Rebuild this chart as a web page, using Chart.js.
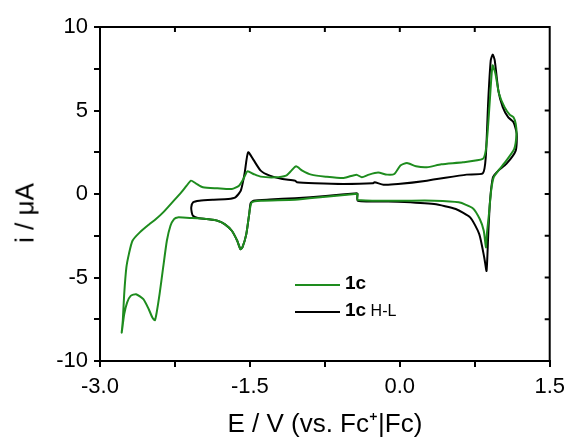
<!DOCTYPE html>
<html>
<head>
<meta charset="utf-8">
<script src="https://cdn.jsdelivr.net/npm/chart.js@4"></script>
<style>
body { margin: 0; background: #fff; }
#wrap { position: relative; width: 572px; height: 438px; font-family: "Liberation Sans", Arial, sans-serif; }
.row { position: absolute; left: 295px; height: 22px; line-height: 22px; white-space: nowrap; color: #000; }
.sw { display: inline-block; width: 45px; height: 2px; vertical-align: middle; margin-right: 5px; }
.row b { font-size: 19px; }
.row span.sub { font-size: 16px; }
#ytitle { position: absolute; left: 25px; top: 213px; font-size: 26px; white-space: nowrap;
  transform: translate(-50%, -50%) rotate(-90deg); }
</style>
</head>
<body>
<div id="wrap">
  <canvas id="cv" width="572" height="438"></canvas>
  <div class="row" style="top:272px"><span class="sw" style="background:#1e8c1e"></span><b>1c</b></div>
  <div class="row" style="top:299px"><span class="sw" style="background:#000"></span><b>1c</b> <span class="sub">H-L</span></div>
  <div id="ytitle">i / μA</div>
</div>
<script>
// 1c  (scan starts at -0.42 V, goes negative, back to +1.17 V, returns)
const greenE = [-0.423, -0.741, -1.048, -1.392, -1.482, -1.507, -1.536, -1.575, -1.595, -1.627, -1.681, -1.753, -1.825,
  -1.934, -2.078, -2.223, -2.259, -2.295, -2.331, -2.368, -2.404, -2.433, -2.451, -2.476, -2.512, -2.566, -2.639,
  -2.693, -2.729, -2.758, -2.776, -2.783, -2.772, -2.758, -2.736, -2.711, -2.675, -2.602, -2.512, -2.440, -2.368,
  -2.277, -2.187, -2.133, -2.089, -2.042, -1.970, -1.825, -1.681, -1.609, -1.565, -1.525, -1.464, -1.392, -1.247,
  -1.139, -1.085, -1.038, -0.976, -0.886, -0.741, -0.561, -0.434, -0.380, -0.308, -0.217, -0.127, -0.055, 0.006,
  0.072, 0.162, 0.271, 0.415, 0.632, 0.830, 0.860, 0.880, 0.903, 0.928, 0.957, 0.993, 1.048, 1.102, 1.138, 1.160,
  1.168, 1.145, 1.066, 0.986, 0.939, 0.914, 0.892, 0.871, 0.862, 0.840, 0.800, 0.730, 0.590, 0.343, -0.018, -0.420,
  -0.423];
const greenI = [0.02, -0.16, -0.34, -0.40, -0.50, -1.2, -2.4, -3.2, -3.3, -2.8, -2.2, -1.8, -1.6,
  -1.5, -1.44, -1.40, -1.5, -1.9, -2.8, -4.4, -6.0, -7.1, -7.56, -7.4, -6.9, -6.3, -6.0,
  -6.1, -6.5, -7.2, -8.0, -8.3, -7.6, -6.0, -4.4, -3.6, -2.8, -2.3, -1.84, -1.5, -1.1,
  -0.5, 0.1, 0.5, 0.8, 0.64, 0.4, 0.34, 0.3, 0.5, 0.9, 1.36, 1.2, 1.04, 1.0,
  1.1, 1.4, 1.66, 1.4, 1.16, 1.04, 0.96, 1.16, 1.0, 1.16, 1.28, 1.16, 1.2, 1.7,
  1.86, 1.66, 1.6, 1.78, 1.9, 2.1, 2.6, 3.8, 5.8, 7.7, 7.2, 6.0, 5.2, 4.74, 4.6, 4.2,
  3.6, 2.7, 2.0, 1.4, 1.0, 0.2, -1.2, -2.4, -3.2, -2.2, -1.5, -0.85, -0.5, -0.4, -0.4, -0.36,
  0.02];

// 1c H-L (switching potential at -2.09 V)
const blackE = [-0.423, -0.741, -1.048, -1.301, -1.464, -1.493, -1.507, -1.536, -1.575, -1.595, -1.627, -1.681, -1.753,
  -1.825, -1.934, -2.030, -2.070, -2.082, -2.087, -2.068, -2.006, -1.862, -1.717, -1.645, -1.591, -1.554, -1.518,
  -1.464, -1.392, -1.301, -1.175, -1.048, -1.030, -0.850, -0.561, -0.271, -0.253, -0.163, -0.018, 0.271, 0.668,
  0.831, 0.860, 0.885, 0.910, 0.930, 0.950, 0.986, 1.030, 1.084, 1.138, 1.170, 1.160, 1.066, 0.986, 0.932,
  0.903, 0.885, 0.868, 0.845, 0.795, 0.704, 0.560, 0.343, -0.018, -0.420, -0.423];
const blackI = [0.05, -0.12, -0.25, -0.33, -0.40, -0.55, -1.2, -2.4, -3.2, -3.3, -2.8, -2.2, -1.8,
  -1.6, -1.5, -1.42, -1.3, -1.1, -0.8, -0.5, -0.4, -0.34, -0.30, -0.20, 0.2, 1.2, 2.5,
  2.04, 1.4, 1.1, 0.9, 0.8, 0.7, 0.64, 0.6, 0.64, 0.7, 0.56, 0.6, 0.8, 1.16,
  1.24, 2.2, 5.6, 8.0, 8.35, 8.0, 6.2, 5.2, 4.6, 4.3, 3.6, 2.6, 1.8, 1.4, 1.0,
  -0.4, -2.4, -4.6, -3.8, -2.4, -1.4, -0.9, -0.6, -0.46, -0.4, 0.05];

const xTicks = [-3.0, -1.5, 0.0, 1.5];
const yTicks = [-10, -5, 0, 5, 10];

function pts(e, i) {
  return e.map((v, k) => ({ x: v, y: i[k] }));
}

// box on top and right with inward ticks
const frame = {
  id: 'frame',
  afterDraw(chart) {
    const ctx = chart.ctx, a = chart.chartArea;
    const xs = chart.scales.x, ys = chart.scales.y;
    ctx.save();
    ctx.strokeStyle = '#000';
    ctx.lineWidth = 2;
    ctx.beginPath();
    ctx.moveTo(a.left - 1, a.top);
    ctx.lineTo(a.right, a.top);
    ctx.lineTo(a.right, a.bottom + 1);
    xs.ticks.forEach(t => {
      const px = xs.getPixelForValue(t.value);
      ctx.moveTo(px, a.top);
      ctx.lineTo(px, a.top + 5);
    });
    ys.ticks.forEach(t => {
      const py = ys.getPixelForValue(t.value);
      ctx.moveTo(a.right, py);
      ctx.lineTo(a.right - 5, py);
    });
    ctx.stroke();
    ctx.restore();
  }
};

const font = { family: '"Liberation Sans", Arial, sans-serif', size: 22 };

new Chart(document.getElementById('cv'), {
  type: 'scatter',
  data: {
    datasets: [{
      label: '1c',
      data: pts(greenE, greenI),
      showLine: true,
      borderColor: '#1e8c1e',
      borderWidth: 2,
      pointRadius: 0,
      tension: 0.2,
      order: 0
    }, {
      label: '1c H-L',
      data: pts(blackE, blackI),
      showLine: true,
      borderColor: '#000',
      borderWidth: 2,
      pointRadius: 0,
      tension: 0.2,
      order: 1
    }]
  },
  options: {
    responsive: false,
    animation: false,
    layout: { padding: { left: 0, top: 27, right: 18, bottom: 0 } },
    plugins: { legend: { display: false }, tooltip: { enabled: false } },
    scales: {
      x: {
        type: 'linear',
        min: -3, max: 1.5,
        afterFit: s => { s.height = 77; },
        border: { color: '#000', width: 2 },
        grid: { drawOnChartArea: false, color: '#000', lineWidth: 2, tickLength: 6 },
        ticks: {
          stepSize: 0.75, autoSkip: false, maxRotation: 0, padding: 7,
          color: '#000', font: font,
          callback: v => xTicks.includes(v) ? v.toFixed(1) : ''
        },
        title: {
          display: true, text: 'E / V (vs. Fc⁺|Fc)', color: '#000',
          font: { family: font.family, size: 26, lineHeight: 1 },
          padding: { top: 0, bottom: 0 }
        }
      },
      y: {
        min: -10, max: 10,
        afterFit: s => { s.width = 100; },
        border: { color: '#000', width: 2 },
        grid: { drawOnChartArea: false, color: '#000', lineWidth: 2, tickLength: 6 },
        ticks: {
          stepSize: 2.5, autoSkip: false, padding: 6,
          color: '#000', font: font,
          callback: v => yTicks.includes(v) ? String(v) : ''
        }
      }
    }
  },
  plugins: [frame]
});
</script>
</body>
</html>
